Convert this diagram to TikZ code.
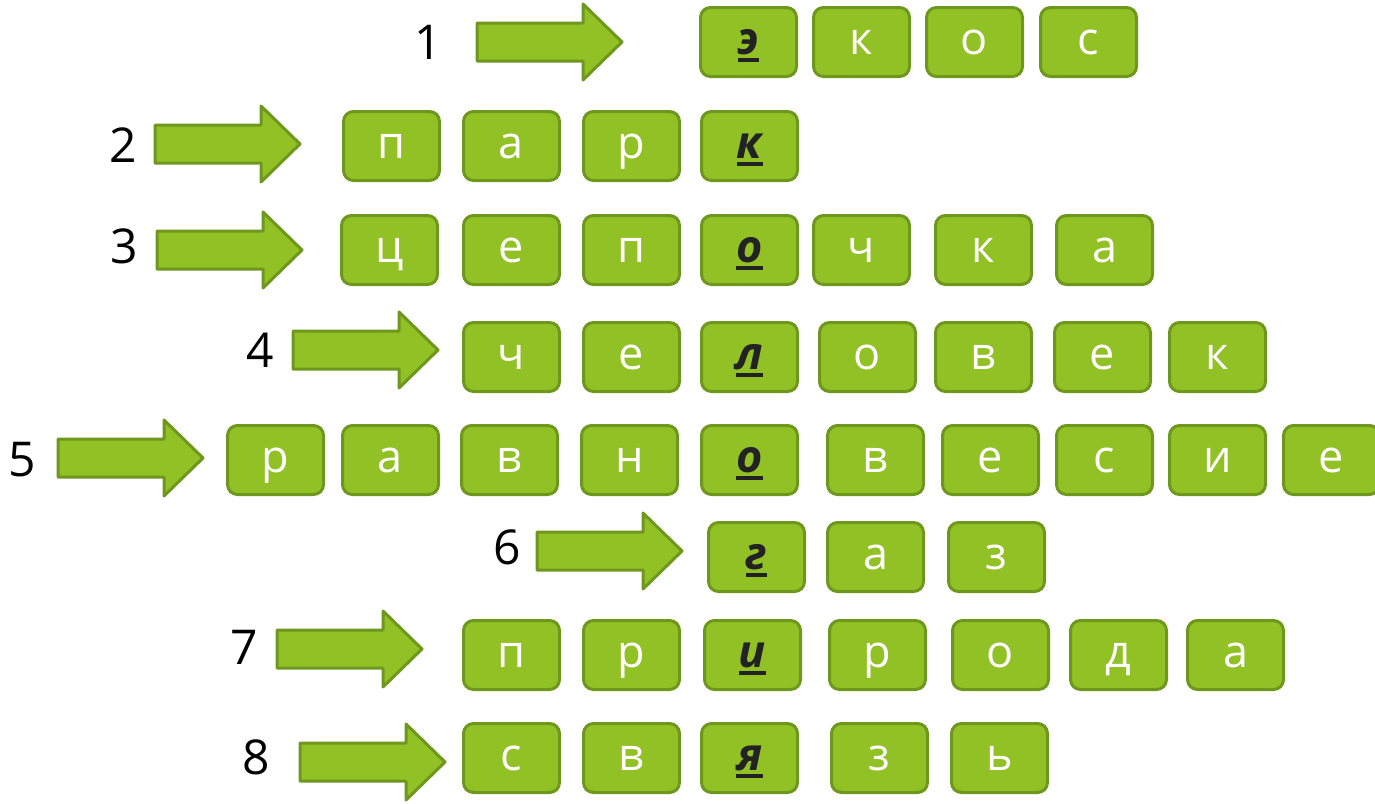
\documentclass[tikz,border=0pt]{standalone}
\usepackage{fontspec}
\setmainfont{Open Sans}
\definecolor{gfill}{HTML}{92C126}
\definecolor{gline}{HTML}{6E971E}
\definecolor{keyc}{HTML}{222222}
\newcommand\kl[1]{{\bfseries\itshape\color{keyc}\setbox0\hbox{#1}\rlap{\raisebox{-8pt}{\rule{\wd0}{4pt}}}\box0}}
\newcommand\grarrow[3]{%
  \draw[arr] (#2,#3-19) -- (#2+106,#3-19) -- (#2+106,#3-38) -- (#2+145,#3)
    -- (#2+106,#3+38) -- (#2+106,#3+19) -- (#2,#3+19) -- cycle;}
\tikzset{
  lbox/.style={draw=gline, fill=gfill, line width=3pt, rounded corners=10pt,
    minimum width=96pt, minimum height=69pt, text=white,
    font=\fontsize{45}{45}\selectfont, text height=24pt, text depth=0pt, inner sep=0pt},
  num/.style={font=\fontsize{48}{48}\selectfont, text=black, inner sep=0pt},
  arr/.style={draw=gline, fill=gfill, line width=3pt, line join=round}}
\begin{document}
\begin{tikzpicture}[x=1pt,y=-1pt]
\path[use as bounding box] (0,0) rectangle (1375,803);
% numbers
\node[num] (n1) at (428,42) {1};
\node[num] (n2) at (123,145) {2};
\node[num] (n3) at (124,246) {3};
\node[num] (n4) at (260,350) {4};
\node[num] (n5) at (22,460) {5};
\node[num] (n6) at (507,547) {6};
\node[num] (n7) at (244,647) {7};
\node[num] (n8) at (256,757) {8};
% arrows
\grarrow{a1}{477}{42}
\grarrow{a2}{155}{144}
\grarrow{a3}{157}{250}
\grarrow{a4}{293}{350}
\grarrow{a5}{58}{458}
\grarrow{a6}{537}{551}
\grarrow{a7}{277}{649}
\grarrow{a8}{300}{762}
% letter boxes
\foreach \x/\t in {699/\kl{э},812/к,925/о,1039/с}
  \node[lbox] (r1-\x) at (\x+49.5,42) {\t};
\foreach \x/\t in {342/п,462/а,582/р,700/\kl{к}}
  \node[lbox] (r2-\x) at (\x+49.5,146) {\t};
\foreach \x/\t in {340/ц,462/е,582/п,700/\kl{о},812/ч,934/к,1055/а}
  \node[lbox] (r3-\x) at (\x+49.5,250) {\t};
\foreach \x/\t in {462/ч,582/е,700/\kl{л},818/о,934/в,1053/е,1168/к}
  \node[lbox] (r4-\x) at (\x+49.5,357) {\t};
\foreach \x/\t in {226/р,341/а,460/в,580/н,700/\kl{о},826/в,941/е,1055/с,1168/и,1282/е}
  \node[lbox] (r5-\x) at (\x+49.5,460) {\t};
\foreach \x/\t in {707/\kl{г},826/а,947/з}
  \node[lbox] (r6-\x) at (\x+49.5,557) {\t};
\foreach \x/\t in {462/п,582/р,703/\kl{и},828/р,951/о,1069/д,1186/а}
  \node[lbox] (r7-\x) at (\x+49.5,655) {\t};
\foreach \x/\t in {462/с,582/в,700/\kl{я},830/з,950/ь}
  \node[lbox] (r8-\x) at (\x+49.5,758) {\t};
\end{tikzpicture}
\end{document}
